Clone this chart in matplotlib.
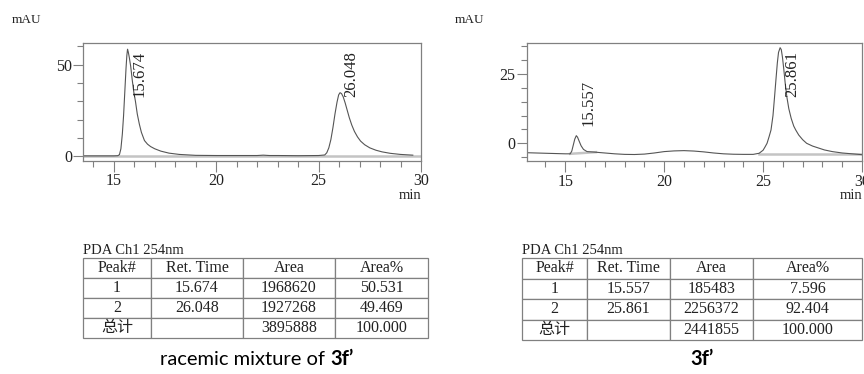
import matplotlib
matplotlib.use("Agg")
import matplotlib.pyplot as plt
from matplotlib.ticker import MultipleLocator

FONT = ['Liberation Serif', 'Noto Sans CJK SC']
plt.rcParams['font.family'] = FONT

# ---------------- data ----------------
# racemic chromatogram (time in min, signal in mAU)
rac_time = [13.5, 14.5, 15.0, 15.2, 15.28, 15.35, 15.42, 15.48, 15.54, 15.6, 15.64, 15.674,
            15.71, 15.76, 15.83, 15.9, 15.98, 16.06, 16.15, 16.25, 16.35, 16.5, 16.65, 16.8,
            17.0, 17.3, 17.7, 18.2, 19.0, 20.0, 21.0, 22.0, 22.3, 22.6, 23.0, 24.0, 25.0,
            25.3, 25.4, 25.5, 25.6, 25.7, 25.8, 25.9, 25.98, 26.048, 26.12, 26.2, 26.3, 26.4,
            26.5, 26.62, 26.75, 26.9, 27.05, 27.25, 27.5, 27.8, 28.1, 28.5, 29.0, 29.6]
rac_signal = [0.1, 0.1, 0.1, 0.2, 0.8, 4, 12, 22, 35, 48, 55, 58.5,
              57, 54, 49, 42, 35, 30, 23, 17.5, 13, 8.5, 6.5, 5.2,
              4.0, 2.7, 1.6, 0.9, 0.4, 0.3, 0.3, 0.3, 0.5, 0.3, 0.3, 0.2, 0.3,
              0.6, 1.8, 4.5, 9, 15.5, 23, 29.5, 33.5, 34.7, 34.2, 32.5, 29, 25,
              21, 17, 13.5, 10.5, 8.2, 6.2, 4.5, 3.2, 2.3, 1.5, 0.9, 0.5]
rac_base_t = [13.5, 30.0]
rac_base_v = [0.0, 0.0]

# enantioenriched chromatogram
ee_time = [13.05, 14.0, 15.0, 15.25, 15.33, 15.41, 15.48, 15.557, 15.62, 15.7, 15.8, 15.92,
           16.1, 16.5, 17.0, 17.5, 18.0, 18.5, 19.0, 19.5, 20.0, 20.5, 21.0, 21.5, 22.0,
           22.5, 23.0, 23.5, 24.0, 24.5, 24.8, 25.0, 25.1, 25.2, 25.3, 25.4, 25.5, 25.58,
           25.65, 25.72, 25.78, 25.861, 25.92, 25.98, 26.05, 26.12, 26.2, 26.3, 26.42,
           26.55, 26.65, 26.8, 27.0, 27.2, 27.5, 27.8, 28.1, 28.5, 29.0, 29.5, 30.0]
ee_signal = [-3.4, -3.6, -3.8, -3.8, -2.8, -0.5, 1.5, 2.75, 2.2, 0.8, -0.9, -2.2,
             -3.0, -3.2, -3.5, -3.8, -4.0, -4.05, -3.9, -3.5, -3.0, -2.75, -2.65, -2.8, -3.1,
             -3.5, -3.8, -3.95, -4.0, -4.0, -3.6, -2.5, -1.3, 0.0, 2.3, 4.8, 10, 16.8,
             23, 29, 32.8, 34.5, 33.8, 31, 26.5, 21.5, 16.8, 12.5, 9,
             6.2, 4.8, 3.0, 1.3, 0.0, -1.0, -1.7, -2.4, -3.0, -3.5, -3.8, -4.1]
ee_base1_t = [15.25, 16.55]
ee_base1_v = [-3.8, -3.2]
ee_base2_t = [24.8, 30.0]
ee_base2_v = [-4.0, -4.0]

rac_peaks = ["15.674", "26.048"]
ee_peaks = ["15.557", "25.861"]

table_header = ["Peak#", "Ret. Time", "Area", "Area%"]
rac_table = [["1", "15.674", "1968620", "50.531"],
             ["2", "26.048", "1927268", "49.469"],
             ["总计", "", "3895888", "100.000"]]
ee_table = [["1", "15.557", "185483", "7.596"],
            ["2", "25.861", "2256372", "92.404"],
            ["总计", "", "2441855", "100.000"]]

channel_label = "PDA Ch1 254nm"
rac_caption = "racemic mixture of "
compound = "3f\u2019"

# ---------------- figure ----------------
W, H = 864, 374
fig = plt.figure(figsize=(W / 100, H / 100), dpi=100)

trace_col = "#555555"
base_col = "#c4c4c4"
spine_col = "#808080"
txt_col = "#222222"


def fx(px):
    return px / W


def fy(py):
    return 1 - py / H


def make_axes(l, t, r, b, xlim, ylim, ymaj, ymin_step):
    ax = fig.add_axes([fx(l), fy(b), fx(r - l), (b - t) / H])
    ax.set_xlim(*xlim)
    ax.set_ylim(*ylim)
    ax.xaxis.set_major_locator(MultipleLocator(5))
    ax.xaxis.set_minor_locator(MultipleLocator(1))
    ax.yaxis.set_major_locator(MultipleLocator(ymaj))
    ax.yaxis.set_minor_locator(MultipleLocator(ymin_step))
    for s in ax.spines.values():
        s.set_color(spine_col)
        s.set_linewidth(0.9)
    ax.tick_params(which='major', direction='out', length=8, width=0.8,
                   color=spine_col, labelsize=11.5, labelcolor=txt_col, pad=1)
    ax.tick_params(which='minor', direction='out', length=4.5, width=0.8, color=spine_col)
    ax.tick_params(axis='y', which='major', length=7, pad=1)
    ax.tick_params(axis='y', which='minor', length=4)
    return ax


# left chromatogram
ax1 = make_axes(83, 43, 421, 161, (13.5, 30), (-2.7, 61.9), 50, 10)
ax1.plot(rac_base_t, rac_base_v, color=base_col, lw=1.8, zorder=1)
ax1.plot(rac_time, rac_signal, color=trace_col, lw=0.8, zorder=2)
for lab, (x, y) in zip(rac_peaks, [(16.28, 32.3), (26.61, 32.3)]):
    ax1.text(x, y, lab, rotation=90, ha='center', va='bottom', fontsize=12, color=txt_col)

# right chromatogram
ax2 = make_axes(526.7, 42.7, 862, 161.3, (13.05, 30), (-6.5, 36.3), 25, 5)
ax2.plot(ee_base1_t, ee_base1_v, color=base_col, lw=1.8, zorder=1)
ax2.plot(ee_base2_t, ee_base2_v, color=base_col, lw=1.8, zorder=1)
ax2.plot(ee_time, ee_signal, color=trace_col, lw=0.8, zorder=2)
for lab, (x, y) in zip(ee_peaks, [(16.15, 6.25), (26.48, 16.8)]):
    ax2.text(x, y, lab, rotation=90, ha='center', va='bottom', fontsize=12, color=txt_col)

# unit labels
fig.text(fx(12), fy(20), "mAU", ha='left', va='center', fontsize=9.5, color=txt_col)
fig.text(fx(455), fy(20), "mAU", ha='left', va='center', fontsize=9.5, color=txt_col)
fig.text(fx(421), fy(199), "min", ha='right', va='baseline', fontsize=10.5, color=txt_col)
fig.text(fx(862), fy(199), "min", ha='right', va='baseline', fontsize=10.5, color=txt_col)


# tables
def make_table(l, t, r, b, col_px, rows):
    ax = fig.add_axes([fx(l), fy(b), fx(r - l), (b - t) / H])
    ax.axis('off')
    tot = float(sum(col_px))
    tbl = ax.table(cellText=rows, colLabels=table_header,
                   colWidths=[c / tot for c in col_px], cellLoc='center',
                   bbox=[0, 0, 1, 1])
    tbl.auto_set_font_size(False)
    tbl.set_fontsize(11.5)
    for cell in tbl.get_celld().values():
        cell.set_edgecolor(spine_col)
        cell.set_linewidth(0.9)
        cell.get_text().set_color(txt_col)
        cell.get_text().set_fontfamily(FONT)
    fig.text(fx(l), fy(t - 0.5), channel_label, ha='left', va='bottom',
             fontsize=10.5, color=txt_col)
    return tbl


make_table(83, 258, 428, 338, [68, 92, 92, 93], rac_table)
make_table(522, 258, 862, 340, [65, 83, 83, 109], ee_table)

# captions
fig.canvas.draw()
r = fig.canvas.get_renderer()
cap_fs = 14.5
cap_base = 365
t1 = fig.text(0, fy(cap_base), rac_caption, ha='left', va='baseline', fontsize=cap_fs,
              family='Lato', color='black')
t2 = fig.text(0, fy(cap_base), compound, ha='left', va='baseline', fontsize=cap_fs,
              family='Lato', fontweight='bold', color='black')
w1 = t1.get_window_extent(r).width
w2 = t2.get_window_extent(r).width
start = 257 - (w1 + w2) / 2
t1.set_x(fx(start))
t2.set_x(fx(start + w1))
fig.text(fx(702), fy(cap_base), compound, ha='center', va='baseline', fontsize=cap_fs,
         family='Lato', fontweight='bold', color='black')

fig.savefig("out.png", dpi=100)
